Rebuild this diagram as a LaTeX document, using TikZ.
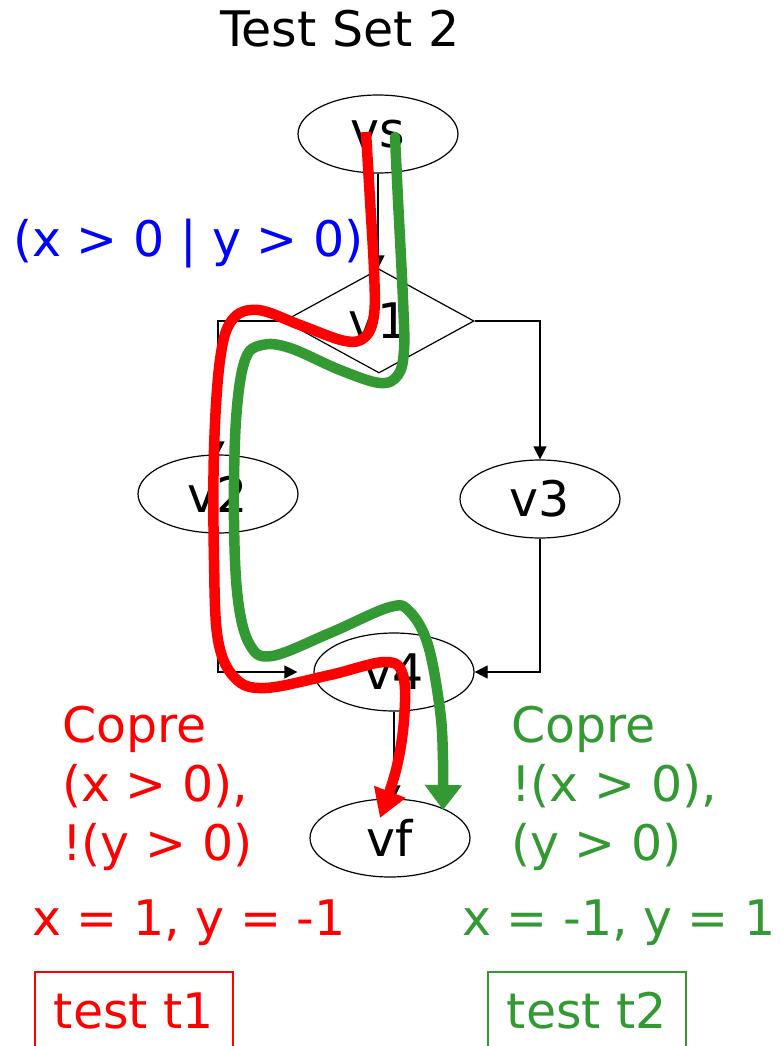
\documentclass[tikz,border=0pt]{standalone}
\usepackage{fontspec}
\setmainfont{DejaVu Sans}
\usetikzlibrary{shapes.geometric,arrows.meta}
\definecolor{pgreen}{RGB}{51,153,51}
\definecolor{pred}{RGB}{255,0,0}
\definecolor{pblue}{RGB}{0,0,255}
\begin{document}
\begin{tikzpicture}[x=1pt,y=-1pt,
  every node/.style={font=\fontsize{49}{59}\selectfont},
  txt/.style={inner sep=0pt},
  ell/.style={ellipse,draw,line width=1.2pt,minimum width=160pt,minimum height=78pt,inner sep=0pt},
  dia/.style={diamond,draw,line width=1.2pt,minimum width=190pt,minimum height=104pt,inner sep=0pt},
  flow/.style={line width=1.2pt,-{Triangle[length=13pt,width=13pt]}},
  redpath/.style={draw=pred,line width=10.5pt,-{Triangle[length=28pt,width=32pt]}},
  greenpath/.style={draw=pgreen,line width=10.5pt,-{Triangle[length=25pt,width=36pt]}},
  testbox/.style={draw,line width=1.5pt,minimum width=198pt,minimum height=78pt,inner sep=0pt}]
\useasboundingbox (0,0) rectangle (782,1046);
\clip (0,0) rectangle (782,1046);

\node[txt,anchor=base west] (title) at (220,47) {Test Set 2};

\node[ell] (vs) at (378,134) {vs};
\node[dia] (v1) at (379,321) {v1};
\node[ell] (v2) at (218,494) {v2};
\node[ell] (v3) at (540,499) {v3};
\node[ell] (v4) at (394,672) {v4};
\node[ell] (vf) at (390,838) {vf};

\draw[flow] (vs.south) -- (vs.south |- v1.north);
\draw[flow] (v1.west) -| (v2.north);
\draw[flow] (v1.east) -| (v3.north);
\draw[flow,shorten >=16pt] (v2.south) |- (v4.west);
\draw[flow] (v3.south) |- (v4.east);
\draw[flow] (v4.south) -- (v4.south |- vf.north);

\node[txt,anchor=base west,text=pblue] (cond) at (13,256) {(x > 0 | y > 0)};

\draw[redpath,line cap=butt] plot[smooth,tension=0.6] coordinates {
  (366,132) (370,200) (374,270) (374,315) (365,337) (345,341) (300,325)
  (258,310) (232,320) (220,360) (214,450) (214,560) (218,640) (235,678)
  (265,688) (330,675) (385,662) (403,675) (404,720) (396,770) (380,818)};

\draw[greenpath,line cap=round] plot[smooth,tension=0.6] coordinates {
  (395,137) (398,200) (403,300) (404,350) (398,375) (380,383) (340,370)
  (290,348) (262,345) (245,360) (236,420) (234,520) (238,600) (250,645)
  (272,656) (330,633) (390,607) (410,612) (428,645) (440,710) (443,760)
  (443,810)};

\node[txt,anchor=north west,align=left,text=pred] (copre1) at (62,706)
  {Copre\\(x > 0),\\!(y > 0)};
\node[txt,anchor=north west,align=left,text=pgreen] (copre2) at (511,706)
  {Copre\\!(x > 0),\\(y > 0)};

\node[txt,anchor=base west,text=pred] (val1) at (32,935) {x = 1, y = -1};
\node[txt,anchor=base west,text=pgreen] (val2) at (462,935) {x = -1, y = 1};

\node[testbox,draw=pred,text=pred] (t1) at (134,1011) {test t1};
\node[testbox,draw=pgreen,text=pgreen] (t2) at (587,1011) {test t2};
\end{tikzpicture}
\end{document}
